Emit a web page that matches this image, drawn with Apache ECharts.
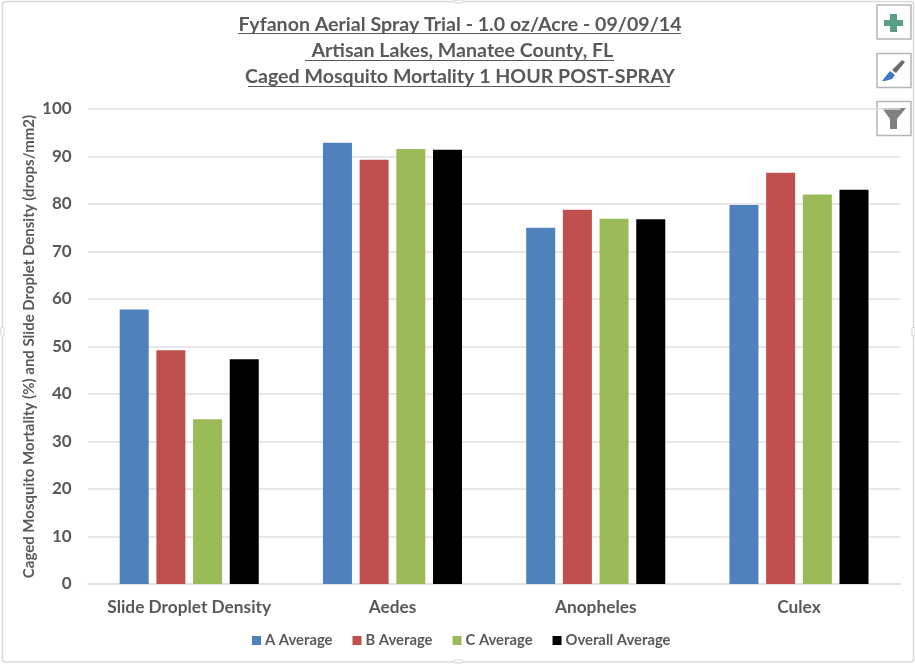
<!DOCTYPE html>
<html>
<head>
<meta charset="utf-8">
<style>html,body{margin:0;padding:0;background:#fff}#c{width:915px;height:664px}</style>
<script src="https://cdn.jsdelivr.net/npm/echarts@6/dist/echarts.min.js"></script>
</head>
<body>
<div id="c"></div>
<script>
const categories = ['Slide Droplet Density', 'Aedes', 'Anopheles', 'Culex'];
const aAverage = [57.8, 92.9, 75.0, 79.8];
const bAverage = [49.2, 89.3, 78.8, 86.6];
const cAverage = [34.7, 91.6, 76.9, 82.0];
const overallAverage = [47.3, 91.4, 76.8, 83.0];
const titleLines = [
  'Fyfanon Aerial Spray Trial - 1.0 oz/Acre - 09/09/14',
  ' Artisan Lakes, Manatee County, FL',
  'Caged Mosquito Mortality 1 HOUR POST-SPRAY'
];
const yAxisTitle = 'Caged Mosquito Mortality (%) and Slide Droplet Density (drops/mm2)';

const FONT = 'Lato, "Open Sans", sans-serif';
const TEXT = '#595959';
const RULE = '#dfdfdf';

const chart = echarts.init(document.getElementById('c'), null, { renderer: 'canvas' });

const bar = (name, data, color) => ({
  name, type: 'bar', data, barWidth: 29, barGap: '26.5%',
  itemStyle: { color }
});

// Underlines for the three title rows
const underline = (y, x1, x2) => ({
  type: 'line', silent: true,
  shape: { x1, y1: y, x2, y2: y },
  style: { stroke: TEXT, lineWidth: 1 }
});

// Toolbar button frame at the top right
const button = (y) => ({
  type: 'rect', silent: true,
  shape: { x: 877, y, width: 34, height: 34 },
  style: { fill: '#fff', stroke: '#b5b5b5', lineWidth: 1.5 }
});

// Small selection handle sitting on the chart frame
const handle = (x, y, width, height) => ({
  type: 'rect', silent: true,
  shape: { x, y, width, height, r: 1.5 },
  style: { fill: '#fff', stroke: '#d0d0d0', lineWidth: 1 }
});

chart.setOption({
  animation: false,
  backgroundColor: '#fff',
  title: {
    text: titleLines.join('\n'),
    left: 455, top: 7, textAlign: 'center',
    textStyle: { fontFamily: FONT, fontSize: 19.6, fontWeight: 'bold', color: TEXT, lineHeight: 26 }
  },
  legend: {
    bottom: 11, left: 247, itemWidth: 9, itemHeight: 9, itemGap: 20,
    icon: 'rect',
    textStyle: { fontFamily: FONT, fontSize: 14.8, fontWeight: 'bold', color: TEXT, padding: [0, 0, 0, -1] }
  },
  grid: { left: 87.6, right: 14.4, top: 109, bottom: 80 },
  xAxis: {
    type: 'category', data: categories,
    axisLine: { lineStyle: { color: RULE, width: 1.5 } },
    axisTick: { show: false },
    axisLabel: { interval: 0, fontFamily: FONT, fontSize: 17.3, fontWeight: 'bold', color: TEXT, margin: 15 }
  },
  yAxis: {
    type: 'value', min: 0, max: 100, interval: 10,
    name: yAxisTitle, nameLocation: 'middle', nameGap: 51, nameRotate: 90, nameMoveOverlap: false,
    nameTextStyle: { fontFamily: FONT, fontSize: 15, fontWeight: 'bold', color: TEXT },
    axisLine: { show: false }, axisTick: { show: false },
    axisLabel: { fontFamily: FONT, fontSize: 17, fontWeight: 'bold', color: TEXT, margin: 16 },
    splitLine: { lineStyle: { color: RULE, width: 1.5 } }
  },
  series: [
    bar('A Average', aAverage, '#4f81bd'),
    bar('B Average', bAverage, '#c0504d'),
    bar('C Average', cAverage, '#9bbb59'),
    bar('Overall Average', overallAverage, '#000000')
  ],
  graphic: [
    // Chart frame and its handles
    { type: 'rect', silent: true, z: -10,
      shape: { x: 2.5, y: 1.5, width: 911, height: 660.5, r: 3 },
      style: { fill: 'none', stroke: '#d9d9d9', lineWidth: 1.5 } },
    handle(454, 0, 9, 3),
    handle(454, 660, 9, 3),
    handle(1, 327, 3, 9),
    handle(912, 327, 3, 9),
    underline(33.5, 238, 681),
    underline(60.5, 305, 614),
    underline(86.5, 248, 670),
    button(5), button(53.5), button(101.5),
    // Plus
    { type: 'polygon', silent: true,
      shape: { points: [[890,14],[897,14],[897,20],[903,20],[903,26],[897,26],[897,32],[890,32],[890,26],[884,26],[884,20],[890,20]] },
      style: { fill: '#5b9f86' } },
    // Brush handle and tip
    { type: 'polygon', silent: true,
      shape: { points: [[902,60],[905,62],[896,73],[892,70]] },
      style: { fill: '#6b6b6b' } },
    { type: 'polygon', silent: true,
      shape: { points: [[890,71],[895,75],[892,79],[885,81],[882,81],[886,76]] },
      style: { fill: '#3f78c4' } },
    // Funnel
    { type: 'polygon', silent: true,
      shape: { points: [[882,108],[906,108],[897,119],[897,129],[890,129],[890,119]] },
      style: { fill: '#7f7f7f' } }
  ]
});
</script>
</body>
</html>
